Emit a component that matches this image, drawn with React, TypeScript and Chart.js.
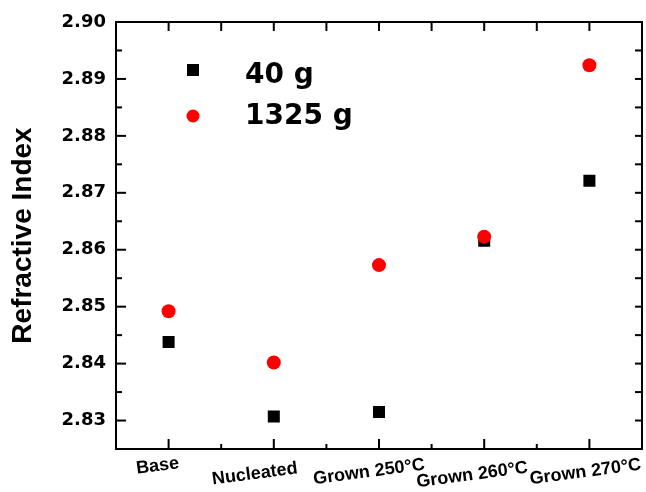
import React, { useEffect, useRef } from "react";
import { Chart, registerables } from "chart.js";

Chart.register(...registerables);

// ---- data ----
const categories = ["Base", "Nucleated", "Grown 250°C", "Grown 260°C", "Grown 270°C"];
const series40g = [2.8438, 2.8307, 2.8315, 2.8616, 2.8721];
const series1325g = [2.8492, 2.8402, 2.8573, 2.8623, 2.8924];
const seriesLabels = ["40 g", "1325 g"];
const yTicks = [2.83, 2.84, 2.85, 2.86, 2.87, 2.88, 2.89, 2.9];
const yMin = 2.825;
const yMax = 2.9;
const yTitle = "Refractive Index";

// ---- style ----
const FONT = '"DejaVu Sans", "Liberation Sans", Arial, sans-serif';
const ARIAL = '"Liberation Sans", Arial, sans-serif';
const labelDx = [-11, -19, -10, -12, -4];
const labelY = [466, 474, 472, 475, 472];

function line(ctx: CanvasRenderingContext2D, x1: number, y1: number, x2: number, y2: number) {
  ctx.beginPath();
  ctx.moveTo(x1, y1);
  ctx.lineTo(x2, y2);
  ctx.stroke();
}

const framePlugin = {
  id: "frameTicks",
  afterDraw(chart: any) {
    const { ctx, chartArea: a, scales } = chart;
    const x = scales.x;
    const y = scales.y;
    ctx.save();
    ctx.strokeStyle = "#000";
    ctx.lineWidth = 2;
    ctx.strokeRect(a.left, a.top, a.right - a.left, a.bottom - a.top);

    // x ticks (major at categories, minor halfway)
    categories.forEach((_, i) => {
      const px = x.getPixelForValue(i);
      line(ctx, px, a.bottom, px, a.bottom - 10);
      line(ctx, px, a.top, px, a.top + 9);
      if (i < categories.length - 1) {
        const pm = x.getPixelForValue(i + 0.5);
        line(ctx, pm, a.bottom, pm, a.bottom - 5);
        line(ctx, pm, a.top, pm, a.top + 9);
      }
    });

    // y ticks
    const minors: number[] = [];
    for (let i = 0; i < yTicks.length - 1; i++) minors.push((yTicks[i] + yTicks[i + 1]) / 2);
    yTicks.forEach((v) => {
      const py = y.getPixelForValue(v);
      if (py < a.top - 1 || py > a.bottom - 1) return;
      line(ctx, a.left, py, a.left + 10, py);
      line(ctx, a.right, py, a.right - 7, py);
    });
    minors.forEach((v) => {
      const py = y.getPixelForValue(v);
      line(ctx, a.left, py, a.left + 6, py);
      line(ctx, a.right, py, a.right - 7, py);
    });

    // x category labels, slightly rotated
    ctx.fillStyle = "#000";
    ctx.font = `bold 18px ${ARIAL}`;
    ctx.textAlign = "center";
    ctx.textBaseline = "middle";
    categories.forEach((lab, i) => {
      const px = x.getPixelForValue(i);
      ctx.save();
      ctx.translate(px + labelDx[i], labelY[i]);
      ctx.rotate((-7.5 * Math.PI) / 180);
      ctx.fillText(lab, 0, 0);
      ctx.restore();
    });

    // legend
    const rows = [
      { my: 70, ty: 83 },
      { my: 116, ty: 124 },
    ];
    const mx = 193;
    const tx = 245;
    chart.data.datasets.forEach((ds: any, i: number) => {
      const r = rows[i];
      ctx.fillStyle = ds.backgroundColor;
      if (ds.pointStyle === "rect") {
        ctx.fillRect(mx - 6, r.my - 6, 12, 12);
      } else {
        ctx.beginPath();
        ctx.arc(mx, r.my, 6.5, 0, Math.PI * 2);
        ctx.fill();
      }
      ctx.fillStyle = "#000";
      ctx.font = `bold 28px ${FONT}`;
      ctx.textAlign = "left";
      ctx.textBaseline = "alphabetic";
      ctx.fillText(ds.label, tx, r.ty);
    });
    ctx.restore();
  },
};

export default function App() {
  const ref = useRef<HTMLCanvasElement | null>(null);

  useEffect(() => {
    if (!ref.current) return;
    const chart = new Chart(ref.current, {
      type: "line",
      data: {
        labels: categories,
        datasets: [
          {
            label: seriesLabels[0],
            data: series40g,
            showLine: false,
            pointStyle: "rect",
            pointRadius: 8.5,
            pointHoverRadius: 8.5,
            backgroundColor: "#000000",
            borderColor: "#000000",
            pointBorderWidth: 0,
            order: 1,
          },
          {
            label: seriesLabels[1],
            data: series1325g,
            showLine: false,
            pointStyle: "circle",
            pointRadius: 7,
            pointHoverRadius: 7,
            backgroundColor: "#ff0000",
            borderColor: "#ff0000",
            pointBorderWidth: 0,
            order: 0,
          },
        ],
      },
      options: {
        animation: false,
        responsive: true,
        maintainAspectRatio: false,
        layout: { autoPadding: false, padding: { top: 22, right: 4, left: 0, bottom: 0 } },
        plugins: {
          legend: { display: false },
          tooltip: { enabled: false },
        },
        scales: {
          x: {
            type: "category",
            offset: true,
            grid: { display: false, drawTicks: false },
            border: { display: false },
            ticks: { display: false },
            afterFit: (s: any) => {
              s.height = 43;
            },
          },
          y: {
            type: "linear",
            min: yMin,
            max: yMax,
            grid: { display: false, drawTicks: false },
            border: { display: false },
            afterBuildTicks: (s: any) => {
              s.ticks = yTicks.map((v) => ({ value: v }));
            },
            ticks: {
              color: "#000",
              padding: 10,
              font: { family: FONT, size: 18, weight: "bold" },
              callback: (v: any) => Number(v).toFixed(2),
            },
            title: {
              display: true,
              text: yTitle,
              color: "#000",
              font: { family: ARIAL, size: 28, weight: "bold" },
              padding: { top: 6, bottom: 0 },
            },
            afterFit: (s: any) => {
              s.width = 116;
            },
          },
        },
      },
      plugins: [framePlugin],
    } as any);
    return () => chart.destroy();
  }, []);

  return (
    <div style={{ position: "fixed", left: 0, top: 0, width: 646, height: 492, background: "#fff" }}>
      <canvas ref={ref} />
    </div>
  );
}
